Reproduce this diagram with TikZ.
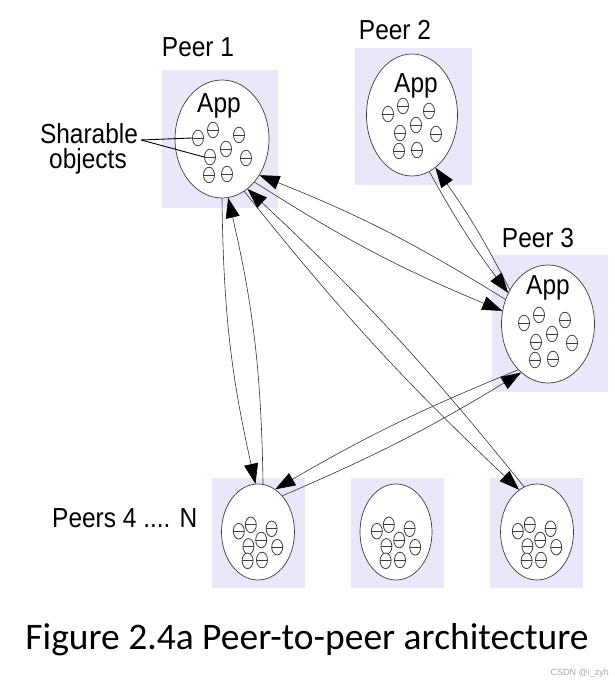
\documentclass[tikz,border=0pt]{standalone}
\usepackage{fontspec}
\usetikzlibrary{shapes.geometric,arrows.meta}
\newfontfamily\lab[FakeStretch=0.89]{Liberation Sans}
\newfontfamily\carlito{Carlito}
\newfontfamily\wmfont{Liberation Sans}
\definecolor{boxbg}{RGB}{232,232,250}
\definecolor{edge}{RGB}{60,60,60}
\tikzset{
  bgbox/.style={fill=boxbg, draw=none, inner sep=0pt},
  peer/.style={ellipse, draw=edge, line width=0.7pt, fill=white, inner sep=0pt},
  lbl/.style={font=\lab\fontsize{27.5}{30}\selectfont, inner sep=0pt},
  capline/.style={draw=edge, line width=0.8pt},
  tipbig/.tip={Triangle[length=20pt, width=14pt, fill=black, color=black]},
  conn/.style={draw=black!80, line width=0.6pt, -tipbig},
  capsule/.pic={
    \draw[capline, fill=white] (0,0) ellipse [x radius=5.5, y radius=7.8];
    \draw[capline] (-5.5,0) -- (5.5,0);
  }
}
\newcommand\objset[3]{%
  \foreach \dx/\dy in {-24/-1,-9/-9,17/-4,-12/18,4/10,24/19,-13/36,5/35}
    {\pic at ({#1+#3*\dx},{#2-#3*\dy}) {capsule};}}
\begin{document}
\begin{tikzpicture}[x=1pt,y=1pt]
\useasboundingbox (0,0) rectangle (615,682);
% background boxes
\node[bgbox, minimum width=116pt, minimum height=138pt] (b1) at (220,543) {};
\node[bgbox, minimum width=117pt, minimum height=137pt] (b2) at (413.5,565.5) {};
\node[bgbox, minimum width=116pt, minimum height=137pt] (b3) at (550,358.5) {};
\node[bgbox, minimum width=93pt, minimum height=110pt] (b4) at (258.5,149) {};
\node[bgbox, minimum width=93pt, minimum height=110pt] (b5) at (397.5,149) {};
\node[bgbox, minimum width=93pt, minimum height=110pt] (b6) at (536.5,149) {};
% peers
\node[peer, minimum width=94pt, minimum height=118pt] (p1) at (222,543) {};
\node[peer, minimum width=91pt, minimum height=122pt] (p2) at (412,567) {};
\node[peer, minimum width=93pt, minimum height=118pt] (p3) at (548,358) {};
\node[peer, minimum width=73pt, minimum height=96pt] (p4) at (258,150) {};
\node[peer, minimum width=72pt, minimum height=96pt] (p5) at (396,150) {};
\node[peer, minimum width=73pt, minimum height=96pt] (p6) at (537,150) {};
% App labels
\node[lbl, anchor=base] (a1) at (219,569) {App};
\node[lbl, anchor=base] (a2) at (416,589) {App};
\node[lbl, anchor=base] (a3) at (548,387) {App};
% objects
\objset{222}{543}{1}
\objset{412}{567}{1}
\objset{548}{358}{1}
\objset{258}{150}{0.8}
\objset{396}{150}{0.8}
\objset{537}{150}{0.8}
% labels
\node[lbl, anchor=base] (l1) at (198,625) {Peer 1};
\node[lbl, anchor=base] (l2) at (395,642) {Peer 2};
\node[lbl, anchor=base] (l3) at (538,434) {Peer 3};
\node[lbl, anchor=base west] (l4) at (52,154) {Peers 4 .... N};
\node[lbl, anchor=base] (share) at (89,538) {Sharable};
\node[lbl, anchor=base] (objw) at (88,513) {objects};
\coordinate (c1) at (192,544);
\coordinate (c4) at (204,525);
\draw[black, line width=0.9pt] ([xshift=3pt,yshift=4pt]share.base east) -- (c1);
\draw[black, line width=0.9pt] ([xshift=3pt,yshift=4pt]share.base east) -- (c4);
% connectors
\draw[conn] (p3.150) to[bend right=5] (p1.-44);
\draw[conn] (p1.-53) to[bend right=5] (p3.164);
\draw[conn] (p3.138) to[bend right=4] (p2.-66);
\draw[conn] (p2.-73) to[bend right=4] (p3.142);
\draw[conn] (p1.-90) to[bend right=6] (p4.93);
\draw[conn] (p4.84) to[bend right=6] (p1.-84);
\draw[conn] (p3.237) to[bend right=4] (p4.68);
\draw[conn] (p4.56) to[bend right=4] (p3.241);
\draw[conn] (p1.-67) to[bend right=4] (p6.113);
\draw[conn] (p6.106) to[bend right=4] (p1.-63);
% caption
\node[font=\carlito\fontsize{37.5}{42}\selectfont, anchor=base, inner sep=0pt] (cap) at (307,32) {Figure 2.4a Peer-to-peer architecture};
\node[font=\wmfont\fontsize{9}{10}\selectfont, text=black!35, anchor=base east, inner sep=0pt] (wm) at (609,6) {CSDN @i\_zyh};
\end{tikzpicture}
\end{document}
